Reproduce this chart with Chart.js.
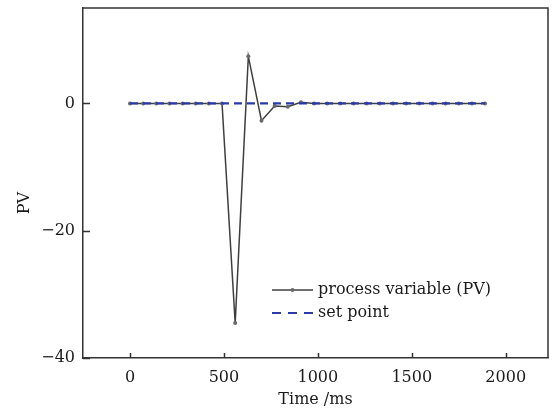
<!DOCTYPE html>
<html>
<head>
<meta charset="utf-8">
<script src="https://cdn.jsdelivr.net/npm/chart.js@4.4.1/dist/chart.umd.min.js"></script>
<style>
  html, body { margin: 0; padding: 0; background: #fff; }
  #chart { display: block; }
</style>
</head>
<body>
<canvas id="chart" width="555" height="410"></canvas>
<script>
// ── Data ──────────────────────────────────────────────────────────────────────
const TIME_MS  = [0, 70, 140, 210, 280, 350, 420, 490, 560, 630, 700, 770, 840, 910,
                  980, 1050, 1120, 1190, 1260, 1330, 1400, 1470, 1540, 1610, 1680, 1750, 1820, 1890]
const PV       = [0, 0, 0, 0, 0, 0, 0, 0, -34.5, 7.4, -2.7, -0.4, -0.5, 0.2,
                  0, 0, 0, 0, 0, 0, 0, 0, 0, 0, 0, 0, 0, 0]
const SETPOINT = [0, 0, 0, 0, 0, 0, 0, 0, 0, 0, 0, 0, 0, 0,
                  0, 0, 0, 0, 0, 0, 0, 0, 0, 0, 0, 0, 0, 0]
const X_TICKS  = [0, 500, 1000, 1500, 2000]
const Y_TICKS  = [-40, -20, 0]

const LABEL_PV = 'process variable (PV)'
const LABEL_SP = 'set point'

// ── Style ─────────────────────────────────────────────────────────────────────
const FONT      = '"DejaVu Serif", "Liberation Serif", serif'
const INK       = '#1a1a1a'
const AXIS      = '#333'
const PV_LINE   = '#3f3f3f'
const PV_DOT    = '#6a6a6a'
const SP_COLOR  = '#2c3aa6'
const SP_DASH   = [8, 5]

const pts = (ys) => TIME_MS.map((t, i) => ({ x: t, y: ys[i] }))

// ── Frame, inward ticks, y title, legend ──────────────────────────────────────
const framePlugin = {
  id: 'frame',
  afterDraw(chart) {
    const { ctx, chartArea: a, scales } = chart
    ctx.save()
    ctx.strokeStyle = AXIS
    ctx.lineWidth = 1.5
    ctx.beginPath()
    ctx.moveTo(a.left, a.top); ctx.lineTo(a.right, a.top); ctx.lineTo(a.right, a.bottom)
    // inward ticks
    X_TICKS.forEach(v => {
      const x = Math.round(scales.x.getPixelForValue(v)) + 0.5
      ctx.moveTo(x, a.bottom); ctx.lineTo(x, a.bottom - 5)
    })
    Y_TICKS.forEach(v => {
      const y = Math.round(scales.y.getPixelForValue(v)) + 0.5
      ctx.moveTo(a.left, y); ctx.lineTo(a.left + 7, y)
    })
    ctx.stroke()

    // y-axis title
    ctx.fillStyle = INK
    ctx.font = `16px ${FONT}`
    ctx.textAlign = 'center'
    ctx.textBaseline = 'middle'
    ctx.translate(25, 203)
    ctx.rotate(-Math.PI / 2)
    ctx.fillText('PV', 0, 0)
    ctx.restore()

    // legend
    ctx.save()
    const lx0 = 272, lx1 = 313, tx = 318
    const rows = [290, 313]
    ctx.font = `16px ${FONT}`
    ctx.textAlign = 'left'
    ctx.textBaseline = 'middle'
    ctx.fillStyle = INK

    ctx.strokeStyle = PV_LINE
    ctx.lineWidth = 1.5
    ctx.beginPath(); ctx.moveTo(lx0, rows[0]); ctx.lineTo(lx1, rows[0]); ctx.stroke()
    ctx.fillStyle = PV_DOT
    ctx.beginPath(); ctx.arc((lx0 + lx1) / 2, rows[0], 2, 0, Math.PI * 2); ctx.fill()
    ctx.fillStyle = INK
    ctx.fillText(LABEL_PV, tx, rows[0])

    ctx.strokeStyle = SP_COLOR
    ctx.lineWidth = 2.2
    ctx.setLineDash([9, 7])
    ctx.beginPath(); ctx.moveTo(lx0, rows[1]); ctx.lineTo(lx1, rows[1]); ctx.stroke()
    ctx.setLineDash([])
    ctx.fillText(LABEL_SP, tx, rows[1])
    ctx.restore()
  },
}

// ── Chart ─────────────────────────────────────────────────────────────────────
new Chart(document.getElementById('chart'), {
  type: 'line',
  data: {
    datasets: [
      {
        label: LABEL_SP,
        data: pts(SETPOINT),
        borderColor: SP_COLOR,
        borderWidth: 2.2,
        borderDash: SP_DASH,
        pointRadius: 0,
        order: 0,
      },
      {
        label: LABEL_PV,
        data: pts(PV),
        borderColor: PV_LINE,
        borderWidth: 1.5,
        pointRadius: 2,
        pointBackgroundColor: PV_DOT,
        pointBorderColor: PV_DOT,
        pointBorderWidth: 0,
        order: 1,
      },
    ],
  },
  options: {
    responsive: false,
    animation: false,
    layout: { padding: { top: 8, right: 7, left: 0, bottom: 0 } },
    plugins: { legend: { display: false }, tooltip: { enabled: false } },
    scales: {
      x: {
        type: 'linear',
        min: -250,
        max: 2225,
        afterBuildTicks: s => { s.ticks = X_TICKS.map(v => ({ value: v })) },
        afterFit: s => { s.height = 52; s.paddingLeft = 0; s.paddingRight = 0 },
        grid: { drawOnChartArea: false, drawTicks: false },
        border: { display: true, color: AXIS, width: 1.5 },
        ticks: {
          color: INK, font: { family: FONT, size: 16 }, padding: 10, maxRotation: 0,
          callback: v => String(v),
        },
        title: {
          display: true, text: 'Time /ms', color: INK,
          font: { family: FONT, size: 16 }, padding: { top: 2, bottom: 1 },
        },
      },
      y: {
        type: 'linear',
        min: -40,
        max: 15,
        afterBuildTicks: s => { s.ticks = Y_TICKS.map(v => ({ value: v })) },
        afterFit: s => { s.width = 83; s.paddingTop = 0; s.paddingBottom = 0 },
        grid: { drawOnChartArea: false, drawTicks: false },
        border: { display: true, color: AXIS, width: 1.5 },
        ticks: {
          color: INK, font: { family: FONT, size: 16 }, padding: 8,
          callback: v => String(v).replace('-', '\u2212'),
        },
      },
    },
  },
  plugins: [framePlugin],
})
</script>
</body>
</html>
